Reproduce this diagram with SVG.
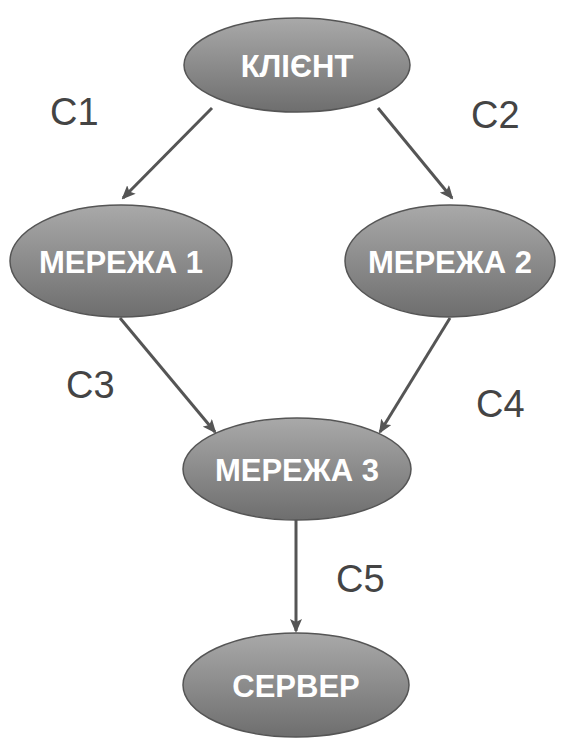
<svg xmlns="http://www.w3.org/2000/svg" width="563" height="744" viewBox="0 0 563 744">
<defs>
<linearGradient id="g" x1="0" y1="0" x2="0" y2="1">
<stop offset="0" stop-color="#a9a9a9"/>
<stop offset="1" stop-color="#6e6e6e"/>
</linearGradient>
<marker id="ah" markerWidth="14" markerHeight="12" refX="12" refY="6" orient="auto" markerUnits="userSpaceOnUse">
<path d="M0,0 L14,6 L0,12 L3,6 Z" fill="#555"/>
</marker>
</defs>
<style>
.n{fill:url(#g);stroke:#555;stroke-width:1.5}
.t{font-family:"Liberation Sans",Arial,sans-serif;font-weight:bold;font-size:31px;fill:#fff;text-anchor:middle}
.l{font-family:"Liberation Sans",Arial,sans-serif;font-size:38px;fill:#444}
.c{stroke:#555;stroke-width:3;fill:none;marker-end:url(#ah)}
</style>
<rect width="563" height="744" fill="#fff"/>
<g id="connectors">
<line class="c" x1="212" y1="108" x2="123" y2="198"/>
<line class="c" x1="378" y1="108" x2="452" y2="198"/>
<line class="c" x1="120" y1="318" x2="215" y2="432"/>
<line class="c" x1="450" y1="318" x2="380" y2="432"/>
<line class="c" x1="296" y1="520" x2="296" y2="631"/>
</g>
<g id="klient"><ellipse class="n" cx="297" cy="65" rx="113" ry="47"/><text class="t" x="297" y="77">КЛІЄНТ</text></g>
<g id="merezha1"><ellipse class="n" cx="121" cy="261" rx="111" ry="56"/><text class="t" x="121" y="273">МЕРЕЖА 1</text></g>
<g id="merezha2"><ellipse class="n" cx="450" cy="261" rx="105" ry="56"/><text class="t" x="450" y="273">МЕРЕЖА 2</text></g>
<g id="merezha3"><ellipse class="n" cx="297" cy="469" rx="114" ry="51"/><text class="t" x="297" y="481">МЕРЕЖА 3</text></g>
<g id="server"><ellipse class="n" cx="296" cy="685" rx="113" ry="52"/><text class="t" x="296" y="697">СЕРВЕР</text></g>
<g id="labels">
<text class="l" x="50" y="125">C1</text>
<text class="l" x="471" y="128">C2</text>
<text class="l" x="66" y="398">C3</text>
<text class="l" x="476" y="417">C4</text>
<text class="l" x="336" y="592">C5</text>
</g>
</svg>
